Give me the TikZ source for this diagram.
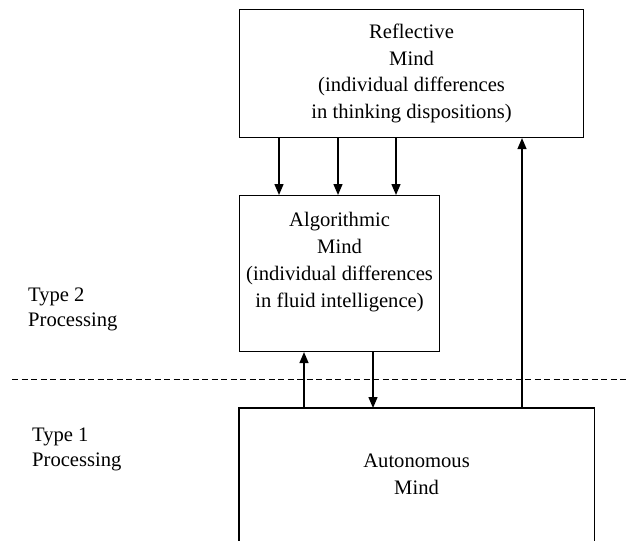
\documentclass[tikz,border=0pt]{standalone}
\usepackage{fontspec}
\setmainfont{Liberation Serif}
\usetikzlibrary{arrows.meta, calc, positioning}

\begin{document}
\begin{tikzpicture}[x=1pt, y=-1pt,
        mind/.style={draw, line width=1.1pt, inner sep=0pt, anchor=north west},
        words/.style={align=center, inner sep=0pt, font=\fontsize{20.6}{26.7}\selectfont},
        flow/.style={line width=1.4pt, -{Triangle[length=11pt,width=9pt]}}]
        \useasboundingbox (0,0) rectangle (628,540);

        \node[mind, words, minimum width=344pt, minimum height=128pt] (refl) at (239,9)
            {Reflective\\Mind\\(individual differences\\in thinking dispositions)};
        \node[mind, minimum width=200pt, minimum height=156pt] (algo) at (239,195) {};
        \node[words, below=17.5pt of algo.north] (algotext)
            {Algorithmic\\Mind\\(individual differences\\in fluid intelligence)};
        \node[mind, words, draw=none, minimum width=354pt, minimum height=132pt] (auto) at (239,408)
            {Autonomous\\Mind};
        \draw[line width=1.1pt] (auto.south west) -- (auto.north west) -- (auto.north east) -- (auto.south east);

        \node[words, align=left, anchor=north west, font=\fontsize{20.6}{25}\selectfont] (type2) at (28,288) {Type 2\\Processing};
        \node[words, align=left, anchor=north west, font=\fontsize{20.6}{25}\selectfont] (type1) at (32,428) {Type 1\\Processing};

        \coordinate (dashL) at (12,379);
        \coordinate (dashR) at (628,379);
        \draw[line width=0.8pt, dash pattern=on 6pt off 3.5pt] (dashL) -- (dashR);

        \foreach \dx in {40,99,157}
            \draw[flow] ($(refl.south west)+(\dx,0)$) -- ($(algo.north west)+(\dx,0)$);
        \draw[flow] ($(auto.north west)+(65,0)$) -- ($(algo.south west)+(65,0)$);
        \draw[flow] ($(algo.south west)+(134,0)$) -- ($(auto.north west)+(134,0)$);
        \draw[flow] ($(auto.north west)+(283,0)$) -- ($(refl.south west)+(283,0)$);
\end{tikzpicture}
\end{document}
